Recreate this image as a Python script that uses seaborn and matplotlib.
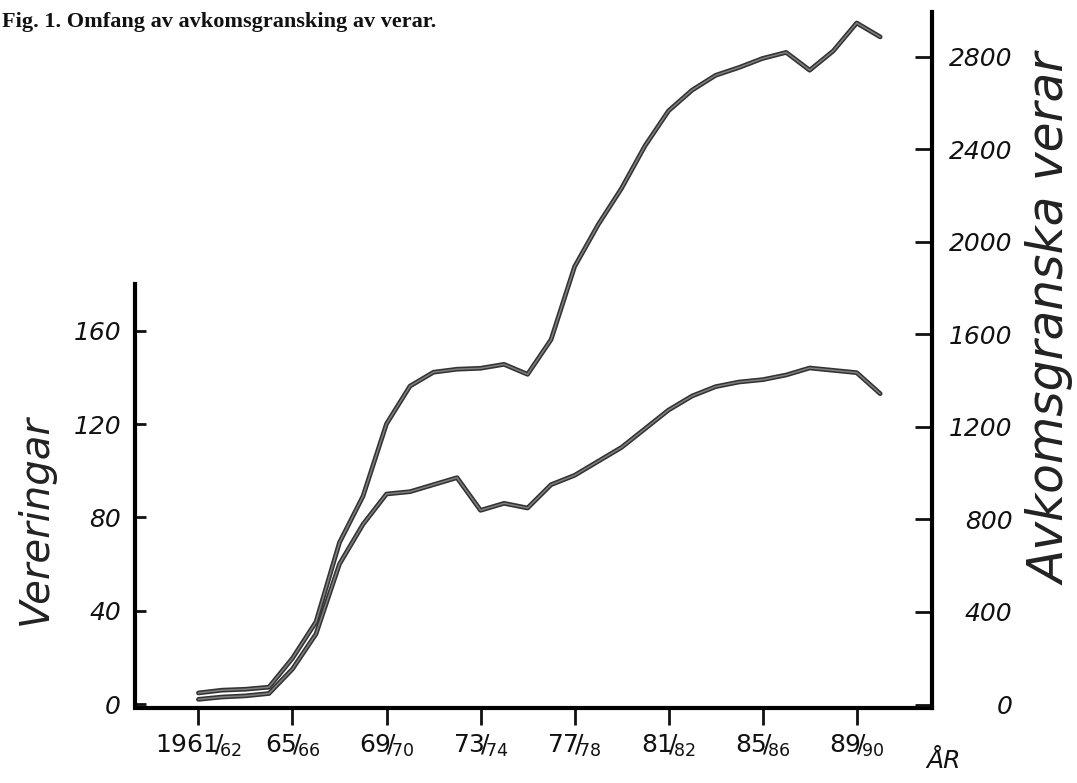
import matplotlib.pyplot as plt
import matplotlib.patheffects as pe
import seaborn as sns
import pandas as pd

# values
years = list(range(1961, 1991))
vereringar = [2, 3, 3.5, 4.5, 15, 30, 60, 77, 90, 91, 94, 97, 83, 86, 84, 94,
              98, 104, 110, 118, 126, 132, 136, 138, 139, 141, 144, 143, 142, 133]
avkomsgranska = [50, 62, 66, 75, 200, 357, 700, 900, 1213, 1376, 1436, 1449, 1453, 1470, 1427, 1577,
                 1892, 2073, 2231, 2415, 2566, 2655, 2719, 2753, 2792, 2818, 2741, 2824, 2945, 2885]
tick_years = [1961, 1965, 1969, 1973, 1977, 1981, 1985, 1989]
tick_labels = [('1961', '62'), ('65', '66'), ('69', '70'), ('73', '74'),
               ('77', '78'), ('81', '82'), ('85', '86'), ('89', '90')]

da = pd.DataFrame({'year': years, 'ver': vereringar, 'avk': avkomsgranska})

sns.set_style('white')
plt.rcParams['font.family'] = ['DejaVu Sans']
plt.rcParams['mathtext.fontset'] = 'dejavusans'
plt.rcParams['text.color'] = '#111111'
plt.rcParams['xtick.color'] = '#111111'
plt.rcParams['ytick.color'] = '#111111'

fig = plt.figure(figsize=(10.77, 7.83), dpi=100)
ax = fig.add_axes([0.1253, 0.0958, 0.740, 0.889])
ax2 = ax.twinx()

line_fx = [pe.Stroke(linewidth=3.4, foreground='#333333'), pe.Normal()]
sns.lineplot(data=da, x='year', y='ver', ax=ax, color='#808080', lw=1.1,
             path_effects=line_fx)
sns.lineplot(data=da, x='year', y='avk', ax=ax2, color='#808080', lw=1.1,
             path_effects=line_fx)

ax.set_xlim(1958.3, 1992.2)
ax.set_ylim(-1.7, 296.6)
ax2.set_ylim(-15, 2993)

# spines
ax.spines['top'].set_visible(False)
ax2.spines['top'].set_visible(False)
ax2.spines['left'].set_visible(False)
ax2.spines['bottom'].set_visible(False)
ax.spines['right'].set_visible(False)
for s in [ax.spines['left'], ax.spines['bottom'], ax2.spines['right']]:
    s.set_color('black')
    s.set_linewidth(3)
ax.spines['left'].set_bounds(0, 180)

# left axis
ax.set_yticks([0, 40, 80, 120, 160])
ax.set_yticklabels(['0', '40', '80', '120', '160'], fontsize=18, style='italic')
ax.tick_params(axis='y', direction='in', length=8, width=2, pad=10, left=True)

# right axis
ax2.set_yticks(list(range(0, 3200, 400)))
ax2.set_yticklabels([str(v) for v in range(0, 3200, 400)], fontsize=18,
                    style='italic', ha='right')
ax2.tick_params(axis='y', direction='in', length=12, width=2, pad=58, right=True)

# x axis
ax.set_xticks(tick_years)
ax.set_xticklabels([r'$\mathit{%s}\!/\!_{\mathit{%s}}$' % (a, b) for a, b in tick_labels],
                   fontsize=18)
ax.tick_params(axis='x', direction='out', length=12, width=2, pad=6, bottom=True)

ax.set_xlabel('')
ax.set_ylabel('')
ax2.set_ylabel('')

fig.text(0.876, 0.028, 'ÅR', fontsize=18, style='italic', ha='center', va='center')
fig.text(0.033, 0.336, 'Vereringar', fontsize=29, style='italic', rotation=90,
         ha='center', va='center', color='#222222')
fig.text(0.976, 0.592, 'Avkomsgranska verar', fontsize=35, style='italic', rotation=90,
         ha='center', va='center', color='#222222')
fig.text(0.002, 1 - 22 / 783, 'Fig. 1. Omfang av avkomsgransking av verar.',
         family='Liberation Serif', fontweight='bold', fontsize=16, va='center')

plt.savefig('out.png', dpi=100)
